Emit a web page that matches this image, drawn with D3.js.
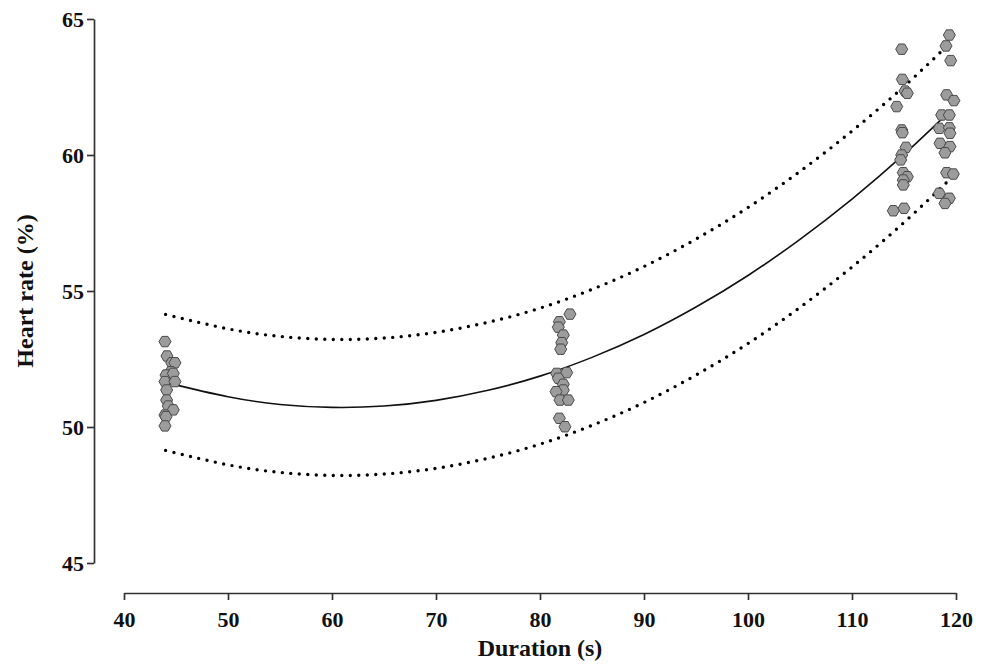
<!DOCTYPE html>
<html>
<head>
<meta charset="utf-8">
<script src="https://cdn.jsdelivr.net/npm/d3@7"></script>
<style>
  body { margin: 0; background: #fff; }
  text { font-family: "Liberation Serif", "Times New Roman", serif; font-weight: bold; fill: #111; }
</style>
</head>
<body>
<script>
const w = 988;
const h = 664;

// axis ticks
var xTicks = [40, 50, 60, 70, 80, 90, 100, 110, 120];
var yTicks = [45, 50, 55, 60, 65];

// fitted curve + dotted bands
var fitX = [44, 50, 55, 60, 65, 70, 75, 80, 85, 90, 95, 100, 105, 110, 115, 119.5];
var fitY = [51.64, 51.11, 50.83, 50.72, 50.77, 50.98, 51.35, 51.87, 52.56, 53.40, 54.41, 55.57, 56.90, 58.38, 60.02, 61.64];
var upperY = [54.14, 53.61, 53.33, 53.22, 53.27, 53.48, 53.85, 54.37, 55.06, 55.90, 56.91, 58.07, 59.40, 60.88, 62.52, 64.14];
var lowerY = [49.14, 48.61, 48.33, 48.22, 48.27, 48.48, 48.85, 49.37, 50.06, 50.90, 51.91, 53.07, 54.40, 55.88, 57.52, 59.14];

// observations
var durations = [
  43.94, 44.13, 44.59, 44.9, 44.5, 44.04, 44.74, 43.94, 44.9, 44.1, 44.1, 44.26, 44.74, 43.94, 44.04, 43.94,
  82.88, 81.86, 81.76, 82.24, 82.09, 81.99, 81.6, 82.57, 81.76, 82.24, 82.24, 81.54, 81.92, 82.72, 81.86, 82.4,
  114.78, 114.84, 115.1, 115.32, 114.3, 114.78, 114.84, 115.19, 114.78, 114.68, 114.93, 115.32, 114.93, 114.93, 115.0, 113.97,
  119.36, 119.04, 119.49, 119.1, 119.8, 118.62, 119.36, 118.39, 119.36, 119.42, 118.46, 119.42, 118.94, 119.1, 119.74, 118.39, 119.36, 118.94
];
var heartRates = [
  53.14, 52.61, 52.36, 52.36, 52.03, 51.91, 51.97, 51.67, 51.67, 51.36, 50.99, 50.77, 50.63, 50.44, 50.38, 50.04,
  54.15, 53.87, 53.67, 53.38, 53.1, 52.86, 51.97, 52.0, 51.79, 51.57, 51.36, 51.3, 50.99, 50.99, 50.32, 50.01,
  63.89, 62.78, 62.35, 62.27, 61.78, 60.92, 60.82, 60.28, 60.0, 59.82, 59.35, 59.2, 59.08, 58.9, 58.04, 57.95,
  64.41, 64.01, 63.47, 62.21, 62.0, 61.47, 61.47, 60.98, 61.0, 60.8, 60.43, 60.31, 60.08, 59.35, 59.3, 58.59, 58.41, 58.22
];

const svg = d3.select("body")
  .append("svg")
  .attr("width", w)
  .attr("height", h);

const x = d3.scaleLinear().domain([40, 120]).range([124, 956]);
const y = d3.scaleLinear().domain([45, 65]).range([563, 19]);

// y axis sits apart from the x axis
const yAxis = svg.append("g")
  .attr("transform", "translate(94,0)")
  .call(d3.axisLeft(y).tickValues(yTicks).tickSize(7).tickPadding(3).tickSizeOuter(0));

const xAxis = svg.append("g")
  .attr("transform", "translate(0,593)")
  .call(d3.axisBottom(x).tickValues(xTicks).tickSize(7).tickPadding(11).tickSizeOuter(0));

[xAxis, yAxis].forEach(a => {
  a.select(".domain").attr("stroke", "#333").attr("stroke-width", 1.7);
  a.selectAll(".tick line").attr("stroke", "#333").attr("stroke-width", 1.7);
  a.selectAll(".tick text")
    .style("font-family", "'Liberation Serif', 'Times New Roman', serif")
    .style("font-weight", "bold")
    .style("font-size", "22px")
    .attr("fill", "#111");
});

// axis titles
svg.append("text")
  .attr("x", 540)
  .attr("y", 656)
  .attr("text-anchor", "middle")
  .style("font-size", "24px")
  .text("Duration (s)");

svg.append("text")
  .attr("transform", "translate(33,291) rotate(-90)")
  .attr("text-anchor", "middle")
  .style("font-size", "24px")
  .text("Heart rate (%)");

// curves
const line = d3.line()
  .x(d => x(d[0]))
  .y(d => y(d[1]))
  .curve(d3.curveNatural);

svg.append("path")
  .attr("d", line(d3.zip(fitX, fitY)))
  .attr("fill", "none")
  .attr("stroke", "#111")
  .attr("stroke-width", 1.6);

[upperY, lowerY].forEach(band => {
  svg.append("path")
    .attr("d", line(d3.zip(fitX, band)))
    .attr("fill", "none")
    .attr("stroke", "#000")
    .attr("stroke-width", 3.4)
    .attr("stroke-linecap", "round")
    .attr("stroke-dasharray", "0 8.5");
});

// hexagon markers, pointy on the left and right
function hexPath(r) {
  var pts = d3.range(6).map(k => {
    var a = k * Math.PI / 3;
    return [r * Math.cos(a), r * Math.sin(a)];
  });
  return "M" + pts.map(p => p[0].toFixed(2) + "," + p[1].toFixed(2)).join("L") + "Z";
}

svg.selectAll("path.pt")
  .data(d3.zip(durations, heartRates))
  .enter()
  .append("path")
  .attr("class", "pt")
  .attr("transform", d => "translate(" + x(d[0]) + "," + y(d[1]) + ")")
  .attr("d", hexPath(6))
  .attr("fill", "#9c9c9c")
  .attr("stroke", "#4a4a4a")
  .attr("stroke-width", 1);
</script>
</body>
</html>
